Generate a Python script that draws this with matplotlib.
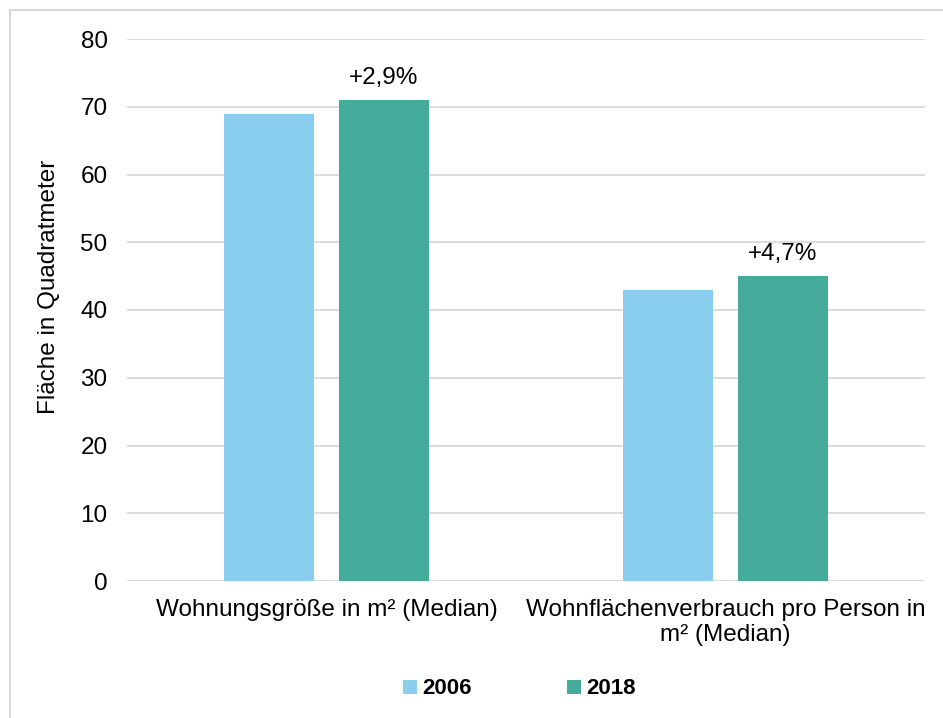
import matplotlib
matplotlib.use("Agg")
import matplotlib.pyplot as plt
import numpy as np
from matplotlib.patches import Rectangle

categories = ["Wohnungsgröße in m² (Median)", "Wohnflächenverbrauch pro Person in\nm² (Median)"]
series_names = ["2006", "2018"]
values_2006 = [69, 43]
values_2018 = [71, 45]
annotations = ["+2,9%", "+4,7%"]
yticks = [0, 10, 20, 30, 40, 50, 60, 70, 80]

plt.rcParams['font.family'] = ['Liberation Sans', 'DejaVu Sans']

W, H = 943, 718
fig = plt.figure(figsize=(W/100, H/100), dpi=100)
ax = fig.add_axes([127/W, 1-581/H, (925-127)/W, (581-39)/H])

FS = 17.5
c1 = "#89CEEF"
c2 = "#45AB9B"
x = np.arange(len(categories))
w = 0.2256
off = 0.1429
b1 = ax.bar(x - off, values_2006, w, color=c1, label=series_names[0], zorder=3)
b2 = ax.bar(x + off, values_2018, w, color=c2, label=series_names[1], zorder=3)

for xi, v, t in zip(x, values_2018, annotations):
    ax.annotate(t, (xi + off, v), xytext=(0, 8), textcoords="offset points",
                ha="center", va="bottom", fontsize=FS, color="#000000")

ax.set_xlim(-0.5, len(categories) - 0.5)
ax.set_ylim(0, 80)
ax.set_yticks(yticks)
ax.set_xticks(x)
ax.set_xticklabels(categories, fontsize=FS, linespacing=1.2)
ax.tick_params(axis='y', labelsize=FS, length=0, pad=14)
ax.tick_params(axis='x', length=0, pad=13)
ax.grid(axis='y', color="#D9D9D9", linewidth=1.3, zorder=0)
for s in ax.spines.values():
    s.set_visible(False)
ax.set_ylabel("Fläche in Quadratmeter", fontsize=FS)
ax.yaxis.set_label_coords(-(127-60)/(925-127), (581-286.5)/(581-39))

leg = fig.legend(handles=[b1, b2], labels=series_names, loc="center",
                 bbox_to_anchor=(0.551, 1-689/H), ncol=2, frameon=False,
                 prop={'weight': 'bold', 'size': 16}, handlelength=0.6,
                 handleheight=0.6, handletextpad=0.25, columnspacing=4.3)

fig.patches.append(Rectangle((10/W, -0.1), 1.2, 1 - 10/H + 0.1, transform=fig.transFigure,
                             fill=False, edgecolor="#D9D9D9", linewidth=1.5))

fig.savefig("out.png", dpi=100)
